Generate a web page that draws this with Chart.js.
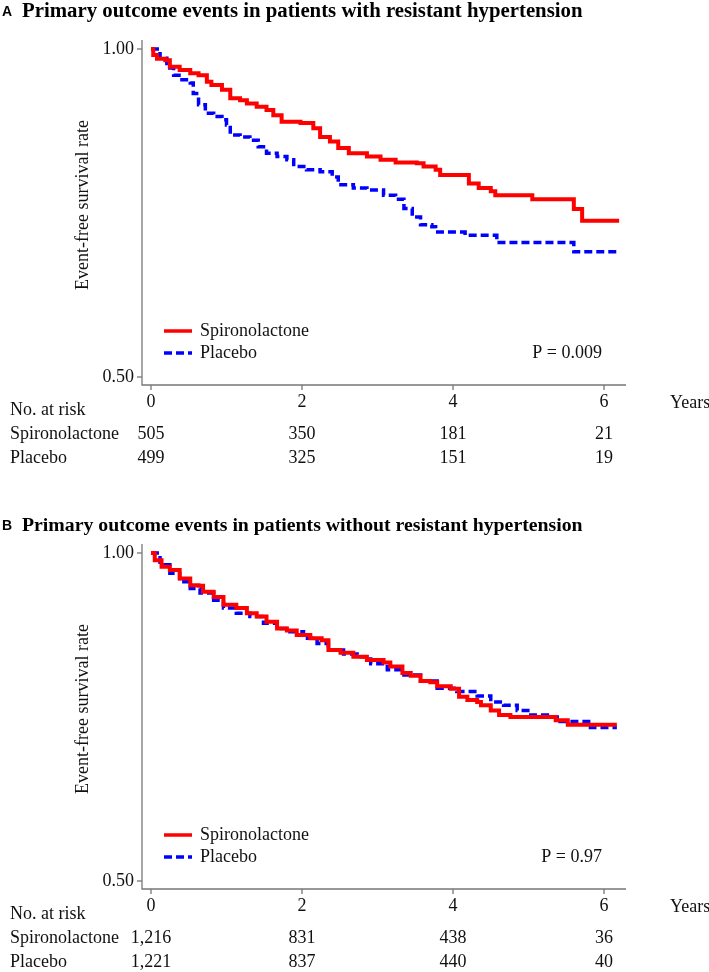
<!DOCTYPE html>
<html>
<head>
<meta charset="utf-8">
<script src="https://cdn.jsdelivr.net/npm/chart.js@4.4.1/dist/chart.umd.min.js"></script>
<style>
  body { margin: 0; background: #fff; }
  canvas { position: absolute; left: 0; }
</style>
</head>
<body>
<canvas id="chartA" width="709" height="504" style="top:0"></canvas>
<canvas id="chartB" width="709" height="468" style="top:504px"></canvas>
<script>
// tick values and group names
var xTicks = [0, 2, 4, 6];
var yTicks = [0.5, 1.0];
var groups = ['Spironolactone', 'Placebo'];

// Panel A: with resistant hypertension (years, survival)
var aSpiroT = [0, 0.03, 0.08, 0.19, 0.25, 0.38, 0.52, 0.63, 0.74, 0.80, 0.94, 1.05, 1.18, 1.27, 1.40, 1.53, 1.62, 1.73, 1.98, 2.15, 2.24, 2.37, 2.48, 2.62, 2.86, 3.04, 3.24, 3.52, 3.61, 3.77, 3.83, 4.21, 4.34, 4.50, 4.56, 5.05, 5.60, 5.71, 6.20];
var aSpiroS = [1, 0.991, 0.985, 0.983, 0.973, 0.968, 0.963, 0.960, 0.950, 0.945, 0.938, 0.925, 0.922, 0.917, 0.912, 0.907, 0.899, 0.889, 0.887, 0.879, 0.866, 0.859, 0.849, 0.841, 0.836, 0.831, 0.827, 0.826, 0.821, 0.816, 0.808, 0.795, 0.788, 0.783, 0.777, 0.771, 0.756, 0.738, 0.738];
var aPlacT = [0, 0.12, 0.21, 0.30, 0.41, 0.52, 0.56, 0.63, 0.72, 0.83, 0.94, 1.00, 1.05, 1.18, 1.31, 1.42, 1.53, 1.67, 1.80, 1.89, 2.06, 2.24, 2.40, 2.48, 2.68, 2.86, 3.08, 3.24, 3.35, 3.46, 3.57, 3.72, 3.77, 4.16, 4.58, 5.60, 6.20];
var aPlacS = [1, 0.986, 0.971, 0.960, 0.953, 0.948, 0.932, 0.915, 0.902, 0.897, 0.892, 0.884, 0.869, 0.866, 0.861, 0.851, 0.841, 0.836, 0.831, 0.821, 0.816, 0.813, 0.805, 0.793, 0.788, 0.785, 0.777, 0.771, 0.757, 0.744, 0.732, 0.729, 0.721, 0.716, 0.705, 0.691, 0.691];
var aRiskSpiro = ['505', '350', '181', '21'];
var aRiskPlac = ['499', '325', '151', '19'];

// Panel B: without resistant hypertension
var bSpiroT = [0, 0.05, 0.14, 0.25, 0.38, 0.52, 0.63, 0.69, 0.83, 0.96, 1.13, 1.27, 1.40, 1.53, 1.67, 1.80, 1.93, 2.11, 2.26, 2.35, 2.51, 2.68, 2.86, 3.08, 3.17, 3.33, 3.44, 3.57, 3.70, 3.79, 3.97, 4.08, 4.19, 4.32, 4.37, 4.50, 4.61, 4.76, 5.36, 5.52, 6.17];
var bSpiroS = [1, 0.989, 0.979, 0.974, 0.961, 0.951, 0.950, 0.941, 0.933, 0.921, 0.916, 0.908, 0.903, 0.895, 0.885, 0.882, 0.875, 0.870, 0.867, 0.852, 0.848, 0.842, 0.837, 0.833, 0.827, 0.817, 0.813, 0.805, 0.803, 0.797, 0.793, 0.781, 0.776, 0.773, 0.768, 0.760, 0.753, 0.750, 0.745, 0.738, 0.738];
var bPlacT = [0, 0.12, 0.25, 0.38, 0.52, 0.65, 0.83, 0.96, 1.13, 1.31, 1.49, 1.67, 1.84, 2.02, 2.20, 2.35, 2.55, 2.73, 2.91, 3.13, 3.35, 3.57, 3.79, 4.05, 4.32, 4.50, 4.67, 4.85, 5.03, 5.25, 5.38, 5.82, 6.17];
var bPlacS = [1, 0.982, 0.969, 0.956, 0.946, 0.939, 0.928, 0.916, 0.908, 0.903, 0.893, 0.885, 0.880, 0.870, 0.862, 0.852, 0.846, 0.842, 0.831, 0.822, 0.814, 0.805, 0.794, 0.789, 0.782, 0.773, 0.768, 0.760, 0.753, 0.750, 0.743, 0.734, 0.734];
var bRiskSpiro = ['1,216', '831', '438', '36'];
var bRiskPlac = ['1,221', '837', '440', '40'];

var RED = 'rgb(255,0,0)';
var BLUE = 'rgb(0,0,255)';
var SERIF = '"Liberation Serif", "Times New Roman", serif';

function pts(t, s) {
  return t.map(function (v, i) { return { x: v, y: s[i] }; });
}

function panelPlugin(p) {
  return {
    id: 'panel' + p.letter,
    afterDraw: function (chart) {
      var ctx = chart.ctx, xs = chart.scales.x, ys = chart.scales.y, a = chart.chartArea;
      ctx.save();
      ctx.textBaseline = 'middle';

      // panel letter + title
      ctx.fillStyle = '#000';
      ctx.font = 'bold 14px "Liberation Sans", Arial, sans-serif';
      ctx.textAlign = 'left';
      ctx.fillText(p.letter, 2, p.titleY);
      ctx.font = 'bold 20px ' + SERIF;
      var w = ctx.measureText(p.title).width;
      var size = 20 * 560 / w;
      ctx.font = 'bold ' + size.toFixed(1) + 'px ' + SERIF;
      ctx.fillText(p.title, 22, p.titleY);

      // axes
      ctx.strokeStyle = '#777';
      ctx.lineWidth = 1.3;
      ctx.beginPath();
      ctx.moveTo(a.left, a.top);
      ctx.lineTo(a.left, a.bottom);
      ctx.lineTo(a.right, a.bottom);
      ctx.stroke();

      ctx.font = '18px ' + SERIF;
      ctx.fillStyle = '#111';
      // y ticks
      ctx.textAlign = 'right';
      yTicks.forEach(function (v) {
        var py = ys.getPixelForValue(v);
        ctx.beginPath();
        ctx.moveTo(a.left - 5, py);
        ctx.lineTo(a.left, py);
        ctx.stroke();
        ctx.fillText(v.toFixed(2), a.left - 8, py);
      });
      // x ticks + at-risk numbers
      ctx.textAlign = 'center';
      xTicks.forEach(function (v, i) {
        var px = xs.getPixelForValue(v);
        ctx.beginPath();
        ctx.moveTo(px, a.bottom);
        ctx.lineTo(px, a.bottom + 5);
        ctx.stroke();
        ctx.fillText(String(v), px, a.bottom + 17);
        ctx.fillText(p.riskSpiro[i], px, a.bottom + 49);
        ctx.fillText(p.riskPlac[i], px, a.bottom + 73);
      });
      ctx.textAlign = 'left';
      ctx.fillText('Years', 670, a.bottom + 18);
      ctx.fillText('No. at risk', 10, a.bottom + 25);
      ctx.fillText(groups[0], 10, a.bottom + 49);
      ctx.fillText(groups[1], 10, a.bottom + 73);

      // y axis title
      ctx.save();
      ctx.translate(83, ys.getPixelForValue(1) + 156);
      ctx.rotate(-Math.PI / 2);
      ctx.textAlign = 'center';
      ctx.fillText('Event-free survival rate', 0, 0);
      ctx.restore();

      // legend
      var y0 = ys.getPixelForValue(0.5);
      var ly1 = y0 - 46, ly2 = y0 - 24;
      ctx.lineWidth = 3.5;
      ctx.strokeStyle = RED;
      ctx.beginPath(); ctx.moveTo(164, ly1); ctx.lineTo(192, ly1); ctx.stroke();
      ctx.strokeStyle = BLUE;
      ctx.setLineDash([8, 4]);
      ctx.beginPath(); ctx.moveTo(164, ly2); ctx.lineTo(192, ly2); ctx.stroke();
      ctx.setLineDash([]);
      ctx.fillText(groups[0], 200, ly1);
      ctx.fillText(groups[1], 200, ly2);
      ctx.textAlign = 'right';
      ctx.fillText(p.pText, 602, ly2);
      ctx.restore();
    }
  };
}

function makePanel(id, p) {
  return new Chart(document.getElementById(id), {
    type: 'line',
    data: {
      datasets: [{
        label: groups[0],
        data: pts(p.spiroT, p.spiroS),
        borderColor: RED,
        borderWidth: 4,
        stepped: true,
        pointRadius: 0,
        fill: false
      }, {
        label: groups[1],
        data: pts(p.placT, p.placS),
        borderColor: BLUE,
        borderWidth: 3.5,
        borderDash: [8, 4],
        stepped: true,
        pointRadius: 0,
        fill: false
      }]
    },
    options: {
      responsive: false,
      animation: false,
      layout: { padding: { left: 142, top: 40, right: 83, bottom: p.padBottom } },
      scales: {
        x: { type: 'linear', display: false, min: -0.119, max: 6.291 },
        y: { type: 'linear', display: false, min: 0.4878, max: 1.0137 }
      },
      plugins: { legend: { display: false }, tooltip: { enabled: false } }
    },
    plugins: [panelPlugin(p)]
  });
}

makePanel('chartA', {
  letter: 'A', titleY: 12,
  title: 'Primary outcome events in patients with resistant hypertension',
  spiroT: aSpiroT, spiroS: aSpiroS, placT: aPlacT, placS: aPlacS,
  riskSpiro: aRiskSpiro, riskPlac: aRiskPlac, pText: 'P = 0.009', padBottom: 119
});
makePanel('chartB', {
  letter: 'B', titleY: 22,
  title: 'Primary outcome events in patients without resistant hypertension',
  spiroT: bSpiroT, spiroS: bSpiroS, placT: bPlacT, placS: bPlacS,
  riskSpiro: bRiskSpiro, riskPlac: bRiskPlac, pText: 'P = 0.97', padBottom: 83
});
</script>
</body>
</html>
